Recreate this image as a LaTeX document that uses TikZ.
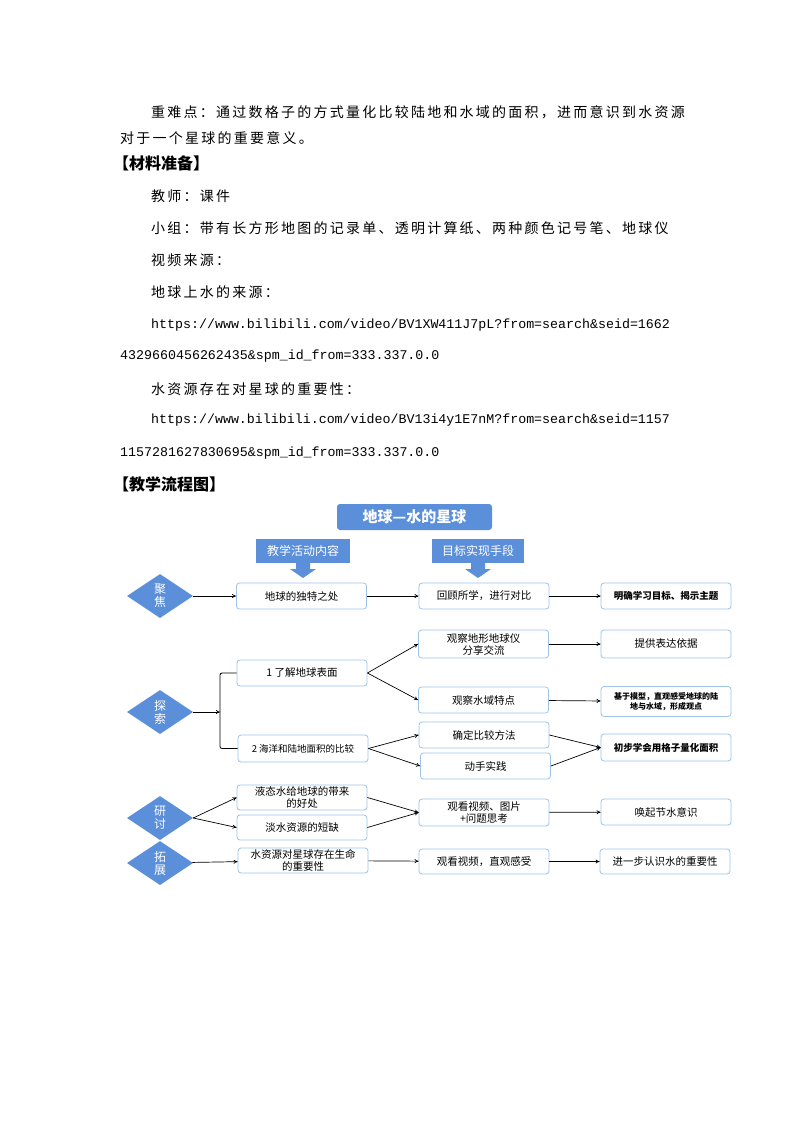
\documentclass[tikz,border=0pt]{standalone}
\usepackage{fontspec}
\setmainfont{Liberation Serif}
\newfontfamily\cjk{Noto Sans CJK SC}
\newfontfamily\cjkw[LetterSpace=16]{Noto Sans CJK SC}
\newfontfamily\mono{Liberation Mono}
\usetikzlibrary{shapes.geometric,arrows.meta}
\definecolor{bl}{HTML}{5B8FD9}
\definecolor{bd}{HTML}{9DC3E6}
\tikzset{
 txt/.style={anchor=west,inner sep=0,font=\cjkw\fontsize{14}{16}\selectfont},
 url/.style={anchor=west,inner sep=0,font=\mono\fontsize{13.3}{15}\selectfont},
 hd/.style={anchor=west,inner sep=0,font=\cjk\bfseries\fontsize{16}{18}\selectfont},
 bx/.style={draw=bd,line width=0.8pt,rounded corners=3pt,minimum width=130pt,minimum height=26pt,inner sep=1pt,align=center,font=\cjk\fontsize{10.5}{12}\selectfont},
 dm/.style={diamond,fill=bl,minimum width=66pt,minimum height=44pt,aspect=1.6,inner sep=0,text=white,align=center,font=\cjk\fontsize{12}{13}\selectfont},
 hb/.style={fill=bl,text=white,inner sep=0,font=\cjk\fontsize{12}{14}\selectfont},
 ar/.style={-{To[length=4pt,width=4pt]},line width=0.7pt},
 fat/.style={fill=bl,draw=none}
}
\begin{document}
\begin{tikzpicture}[x=1pt,y=-1pt]
\useasboundingbox (0,0) rectangle (794,1123);
\fill[white] (0,0) rectangle (794,1123);
\node[txt] (t1) at (151,112) {重难点：通过数格子的方式量化比较陆地和水域的面积，进而意识到水资源};
\node[txt] (t2) at (120,138) {对于一个星球的重要意义。};
\node[hd] (t3) at (113,163) {【材料准备】};
\node[txt] (t4) at (151,196) {教师：课件};
\node[txt] (t5) at (151,228) {小组：带有长方形地图的记录单、透明计算纸、两种颜色记号笔、地球仪};
\node[txt] (t6) at (151,260) {视频来源：};
\node[txt] (t7) at (151,292) {地球上水的来源：};
\node[url] (t8) at (151,325) {https://www.bilibili.com/video/BV1XW411J7pL?from=search\&seid=1662};
\node[url] (t9) at (120,356) {4329660456262435\&spm\_id\_from=333.337.0.0};
\node[txt] (t10) at (151,389) {水资源存在对星球的重要性：};
\node[url] (t11) at (151,420) {https://www.bilibili.com/video/BV13i4y1E7nM?from=search\&seid=1157};
\node[url] (t12) at (120,453) {1157281627830695\&spm\_id\_from=333.337.0.0};
\node[hd] (t13) at (113,484) {【教学流程图】};

% title
\node[fill=bl,rounded corners=3pt,minimum width=155pt,minimum height=26pt,text=white,font=\cjk\bfseries\fontsize{15}{16}\selectfont] (title) at (414.5,517) {地球—水的星球};
\node[hb,minimum width=94pt,minimum height=24pt] (h1) at (303,551) {教学活动内容};
\fill[fat] (296,563) -- (310,563) -- (310,569) -- (316,569) -- (303,578) -- (290,569) -- (296,569) -- cycle;
\node[hb,minimum width=92pt,minimum height=24pt] (h2) at (478,551) {目标实现手段};
\fill[fat] (471,563) -- (485,563) -- (485,569) -- (491,569) -- (478,578) -- (465,569) -- (471,569) -- cycle;

% row 1
\node[dm] (d1) at (160,596) {聚\\焦};
\node[bx] (a1) at (301.5,596) {地球的独特之处};
\node[bx] (b1) at (484,596) {回顾所学，进行对比};
\node[bx,font=\cjk\bfseries\fontsize{9.5}{10}\selectfont] (c1) at (666,596) {明确学习目标、揭示主题};
\draw[ar] (d1) -- (a1);
\draw[ar] (a1) -- (b1);
\draw[ar] (b1) -- (c1);

% explore
\node[bx,minimum height=28pt] (b2) at (483.5,644) {观察地形地球仪\\分享交流};
\node[bx,minimum height=28pt] (c2) at (666,644) {提供表达依据};
\node[bx] (a2) at (302,673) {1 了解地球表面};
\node[bx] (b3) at (483.5,700) {观察水域特点};
\node[bx,minimum height=30pt,font=\cjk\bfseries\fontsize{8}{10}\selectfont] (c3) at (666,701.5) {基于模型，直观感受地球的陆\\地与水域，形成观点};
\node[dm] (d2) at (160,712) {探\\索};
\node[bx,minimum height=27pt,font=\cjk\fontsize{9.5}{10}\selectfont] (a3) at (303,748.5) {2 海洋和陆地面积的比较};
\node[bx] (b4) at (484,735) {确定比较方法};
\node[bx] (b5) at (485.5,766) {动手实践};
\node[bx,minimum height=27pt,font=\cjk\bfseries\fontsize{9.5}{10}\selectfont] (c4) at (666,747.5) {初步学会用格子量化面积};
\coordinate (k) at (220,712);
\draw[ar] (d2) -- (k);
\draw[line width=0.8pt,rounded corners=2pt] (a2.west) -- (220,673) -- (220,748.5) -- (a3.west);
\draw[ar] (a2.east) -- (b2.west);
\draw[ar] (a2.east) -- (b3.west);
\draw[ar] (b2) -- (c2);
\draw[ar] (b3) -- (c3);
\draw[ar] (a3.east) -- (b4.west);
\draw[ar] (a3.east) -- (b5.west);
\draw[ar] (b4.east) -- (c4.west);
\draw[ar] (b5.east) -- (c4.west);

% discuss
\node[dm] (d3) at (160,818) {研\\讨};
\node[bx,minimum height=25pt] (a4) at (302,797.5) {液态水给地球的带来\\的好处};
\node[bx,minimum height=25pt] (a5) at (302,827.5) {淡水资源的短缺};
\node[bx,minimum height=27pt] (b6) at (484,812.5) {观看视频、图片\\+问题思考};
\node[bx] (c5) at (666,812) {唤起节水意识};
\draw[ar] (d3.east) -- (a4.west);
\draw[ar] (d3.east) -- (a5.west);
\draw[ar] (a4.east) -- (b6.west);
\draw[ar] (a5.east) -- (b6.west);
\draw[ar] (b6) -- (c5);

% extend
\node[dm] (d4) at (160,863) {拓\\展};
\node[bx,minimum height=25pt] (a6) at (303,860.5) {水资源对星球存在生命\\的重要性};
\node[bx,minimum height=25pt] (b7) at (484,861.5) {观看视频，直观感受};
\node[bx,minimum height=25pt] (c6) at (665,861.5) {进一步认识水的重要性};
\draw[ar] (d4) -- (a6);
\draw[ar] (a6) -- (b7);
\draw[ar] (b7) -- (c6);
\end{tikzpicture}
\end{document}
